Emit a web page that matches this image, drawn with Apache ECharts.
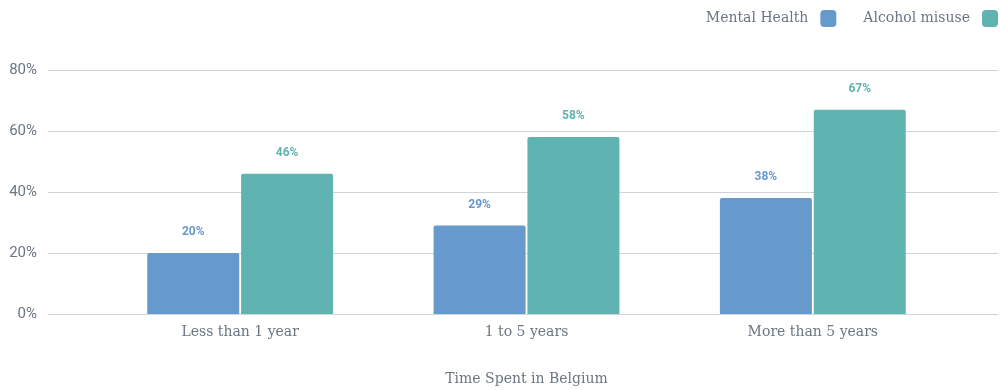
<!DOCTYPE html>
<html><head><meta charset="utf-8">
<script src="https://cdn.jsdelivr.net/npm/echarts@6/dist/echarts.min.js"></script>
<style>html,body{margin:0;padding:0;background:#fff}#c{width:1000px;height:390px}</style>
</head><body><div id="c"></div>
<script>
const categories = ['Less than 1 year', '1 to 5 years', 'More than 5 years'];
const mentalHealth = [20, 29, 38];
const alcoholMisuse = [46, 58, 67];
const yTicks = [0, 20, 40, 60, 80];
const seriesNames = ['Mental Health', 'Alcohol misuse'];
const xTitle = 'Time Spent in Belgium';

const textColor = '#6b7683';
const serif = '"DejaVu Serif", "Liberation Serif", serif';
const chart = echarts.init(document.getElementById('c'));
const yBase = {type: 'value', min: yTicks[0], max: yTicks[yTicks.length-1], interval: 20};
chart.setOption({
  animation: false,
  legend: {
    right: 2, top: 10, padding: 0, align: 'right', itemWidth: 16, itemHeight: 17, itemGap: 27,
    icon: 'roundRect',
    textStyle: {fontFamily: serif, fontSize: 14, color: textColor, padding: [0, 7, 0, 0]},
    data: seriesNames
  },
  grid: [
    {left: 48, right: 2, top: 70, bottom: 76, outerBoundsMode: 'none', containLabel: false},
    {left: 97, right: 44, top: 70, bottom: 76, outerBoundsMode: 'none', containLabel: false}
  ],
  xAxis: [
    {gridIndex: 0, type: 'category', data: categories, show: false},
    {gridIndex: 1, type: 'category', data: categories,
     axisLine: {show: false}, axisTick: {show: false},
     axisLabel: {fontFamily: serif, fontSize: 14, color: textColor, margin: 11},
     name: xTitle, nameLocation: 'middle', nameGap: 58,
     nameTextStyle: {fontFamily: serif, fontSize: 14, color: textColor}}
  ],
  yAxis: [
    Object.assign({gridIndex: 0,
      axisLine: {show: false}, axisTick: {show: false},
      axisLabel: {formatter: '{value}%', fontFamily: 'Roboto', fontSize: 15, color: textColor, margin: 11},
      splitLine: {lineStyle: {color: '#d0d4d8', width: 1}}}, yBase),
    Object.assign({gridIndex: 1, show: false, splitLine: {show: false}}, yBase)
  ],
  series: [
    {name: seriesNames[0], type: 'bar', xAxisIndex: 1, yAxisIndex: 1, data: mentalHealth,
     barWidth: 92, barGap: '2%',
     itemStyle: {color: '#6699cc', borderRadius: [2, 2, 0, 0]},
     label: {show: true, position: 'top', distance: 15, formatter: '{c}%',
             fontFamily: 'Roboto', fontWeight: 'bold', fontSize: 12, color: '#6699cc'}},
    {name: seriesNames[1], type: 'bar', xAxisIndex: 1, yAxisIndex: 1, data: alcoholMisuse,
     barWidth: 92,
     itemStyle: {color: '#5fb3b1', borderRadius: [2, 2, 0, 0]},
     label: {show: true, position: 'top', distance: 15, formatter: '{c}%',
             fontFamily: 'Roboto', fontWeight: 'bold', fontSize: 12, color: '#5fb3b1'}}
  ]
});
</script></body></html>
